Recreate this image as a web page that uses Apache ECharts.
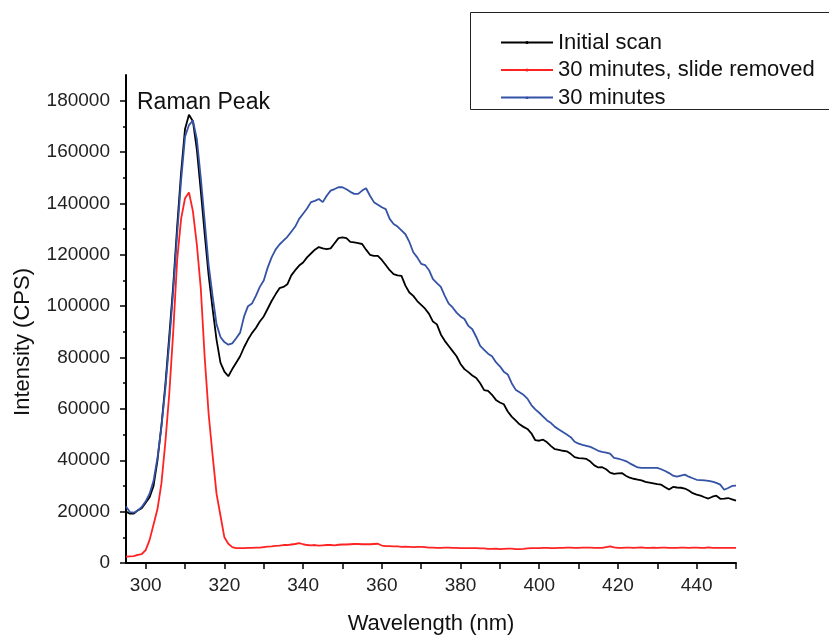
<!DOCTYPE html>
<html><head><meta charset="utf-8">
<script src="https://cdn.jsdelivr.net/npm/echarts@6/dist/echarts.min.js"></script>
<style>html,body{margin:0;padding:0;background:#fff}#c{width:829px;height:636px}</style>
</head><body><div id="c"></div>
<script>
const wavelength = [295,296,297,298,299,300,301,302,303,304,305,306,307,308,309,310,311,312,313,314,315,316,317,318,319,320,321,322,323,324,325,326,327,328,329,330,331,332,333,334,335,336,337,338,339,340,341,342,343,344,345,346,347,348,349,350,351,352,353,354,355,356,357,358,359,360,361,362,363,364,365,366,367,368,369,370,371,372,373,374,375,376,377,378,379,380,381,382,383,384,385,386,387,388,389,390,391,392,393,394,395,396,397,398,399,400,401,402,403,404,405,406,407,408,409,410,411,412,413,414,415,416,417,418,419,420,421,422,423,424,425,426,427,428,429,430,431,432,433,434,435,436,437,438,439,440,441,442,443,444,445,446,447,448,449,450];

const initialScan = [
20000,19200,19200,20500,21300,23500,25600,30000,40000,53500,
69500,88500,108000,131000,152000,169000,174500,172000,161000,145000,
128000,112000,99000,87000,78000,74500,72700,75500,78000,80500,
84000,87000,89500,91500,94000,96000,99000,102000,104600,107000,
107500,108500,112000,114000,115800,117000,119000,120500,122000,123000,
122500,122200,122500,124500,126500,126800,126500,125000,124800,124500,
124200,122000,120000,119600,119600,118000,116000,114000,112500,112000,
111800,108000,105300,104000,102000,100500,99000,97000,94000,92900,
89000,86500,84500,82500,80500,77500,75500,74300,73000,72000,
70000,67300,67000,65500,63500,62500,61800,59000,57000,55500,
54000,53000,52200,50500,47800,47600,48000,47000,45500,44300,
44000,43700,43500,42500,41200,40800,40700,40500,39500,38000,
37200,37300,36500,35200,34700,34900,35000,34000,33200,32800,
32500,32200,31600,31300,31000,30700,30500,29500,28600,29600,
29400,29300,29000,28200,27200,26600,26200,25600,25100,25800,
26200,25000,25100,25300,24800,24300];

const slideRemoved = [
2500,2600,2700,3200,3500,5000,9000,15000,21000,31000,
47000,66000,90000,118000,134000,142000,144300,137000,124000,107000,
80000,58000,42000,27000,18500,10000,7500,6200,5800,5800,
5800,5900,5900,6000,6000,6200,6400,6500,6700,6800,
7000,7000,7200,7400,7700,7300,7000,6900,7000,6800,
6900,7000,7000,6900,7100,7200,7200,7300,7400,7400,
7300,7300,7300,7400,7500,6800,6600,6600,6500,6500,
6300,6400,6300,6200,6300,6300,6200,6000,6000,5900,
5900,6000,6000,5900,5900,5800,5800,5800,5800,5800,
5700,5700,5500,5500,5600,5400,5500,5600,5600,5400,
5400,5500,5700,5800,5800,5800,5900,5900,5800,5800,
5900,5900,6000,6000,5900,5900,6000,6000,6000,5900,
5900,5900,6200,6500,6100,5900,5900,6000,6000,5900,
6000,6100,5900,5900,6000,5900,6000,6000,5900,5900,
5900,6000,6000,5900,6000,6000,5900,5900,6100,5900,
5900,5900,5900,5900,5900,5900];

const thirtyMinutes = [
22000,19800,19600,20500,21800,24000,27000,32000,41000,53000,
68000,86000,106000,128000,149000,166000,170500,172300,165000,150000,
133000,116000,104000,93000,88000,86000,85000,85500,87500,89700,
96000,100000,101000,104000,107500,110000,115000,119000,122000,124000,
125500,127000,129000,131000,134000,136000,138000,140500,141000,141700,
140500,143000,145000,145600,146300,146300,145500,144500,143700,143700,
145000,145900,143000,140500,139500,138500,137800,134000,132000,131000,
129500,128000,125000,121000,119000,116500,116000,114000,110500,109000,
107500,104000,101000,99500,97500,96000,95000,92300,91000,88000,
84500,83000,81500,80500,78200,76600,74500,73400,70000,67500,
66500,65500,64000,61500,59800,58500,57000,55500,54500,53000,
52000,51000,50000,49000,47200,46500,46000,45600,45200,44500,
43700,43300,43000,42600,40900,40600,40200,39700,38800,38000,
37200,37000,37000,37000,37000,37000,36500,35800,35000,34000,
33600,34000,34400,33600,33000,32400,32300,32200,32000,31700,
31200,30500,28500,29200,30000,30100];

const seriesNames = ['Initial scan', '30 minutes, slide removed', '30 minutes'];
const xTickLabels = [300,320,340,360,380,400,420,440];
const xTicks = [300,310,320,330,340,350,360,370,380,390,400,410,420,430,440,450];
const yTickLabels = [0,20000,40000,60000,80000,100000,120000,140000,160000,180000];
const yMinorTicks = [10000,30000,50000,70000,90000,110000,130000,150000,170000];

const font = '"Liberation Sans", Arial, sans-serif';
const chart = echarts.init(document.getElementById('c'), null, {renderer: 'canvas'});
function pairs(ys) { return wavelength.map((x, i) => [x, ys[i]]); }

const option = {
  animation: false,
  backgroundColor: '#fff',
  grid: {left: 126, right: 93, top: 75, bottom: 73, containLabel: false, outerBoundsMode: 'none'},
  legend: {
    left: 495, top: 26, orient: 'vertical',
    itemWidth: 52, itemHeight: 4, itemGap: 4.5,
    textStyle: {fontSize: 22, color: '#111', fontFamily: font, lineHeight: 23},
    data: seriesNames
  },
  xAxis: [{
    type: 'value', min: 295, max: 450,
    axisLine: {show: true, onZero: false, lineStyle: {color: '#000', width: 2}},
    splitLine: {show: false},
    axisTick: {show: true, customValues: xTicks, length: 6, lineStyle: {color: '#000', width: 1.5}},
    axisLabel: {customValues: xTickLabels, fontSize: 19, color: '#222', fontFamily: font, margin: 13,
      formatter: v => String(v)},
    name: 'Wavelength (nm)', nameLocation: 'middle', nameGap: 50,
    nameTextStyle: {fontSize: 22, color: '#111', fontFamily: font}
  }],
  yAxis: [{
    type: 'value', min: 0, max: 190000,
    axisLine: {show: true, onZero: false, lineStyle: {color: '#000', width: 2}},
    splitLine: {show: false},
    axisTick: {show: true, customValues: yTickLabels, length: 6, lineStyle: {color: '#000', width: 1.5}},
    axisLabel: {customValues: yTickLabels, fontSize: 19, color: '#222', fontFamily: font, margin: 16,
      formatter: v => String(v)},
    name: 'Intensity (CPS)', nameLocation: 'middle', nameGap: 92,
    nameTextStyle: {fontSize: 22, color: '#111', fontFamily: font, padding: [0, 46, 0, 0]}
  }, {
    type: 'value', min: 0, max: 190000, position: 'left',
    axisLine: {show: false},
    splitLine: {show: false},
    axisTick: {show: true, customValues: yMinorTicks, length: 3, lineStyle: {color: '#000', width: 1.5}},
    axisLabel: {show: false}
  }],
  series: [
    {name: seriesNames[0], type: 'line', data: pairs(initialScan), showSymbol: false,
     symbol: 'circle', symbolSize: 3, color: '#000000', lineStyle: {width: 1.8}, z: 2},
    {name: seriesNames[1], type: 'line', data: pairs(slideRemoved), showSymbol: false,
     symbol: 'circle', symbolSize: 2, color: '#ff2222', lineStyle: {width: 1.8}, z: 3},
    {name: seriesNames[2], type: 'line', data: pairs(thirtyMinutes), showSymbol: false,
     symbol: 'triangle', symbolSize: 3, color: '#3553a6', lineStyle: {width: 1.8}, z: 4}
  ],
  graphic: [
    {type: 'rect', silent: true, shape: {x: 470.5, y: 12.5, width: 380, height: 97},
     style: {fill: 'none', stroke: '#222', lineWidth: 1}},
    {type: 'text', left: 137, top: 91,
     style: {text: 'Raman Peak', fontSize: 23, fill: '#111', fontFamily: font}}
  ]
};
chart.setOption(option);
</script>
</body></html>
